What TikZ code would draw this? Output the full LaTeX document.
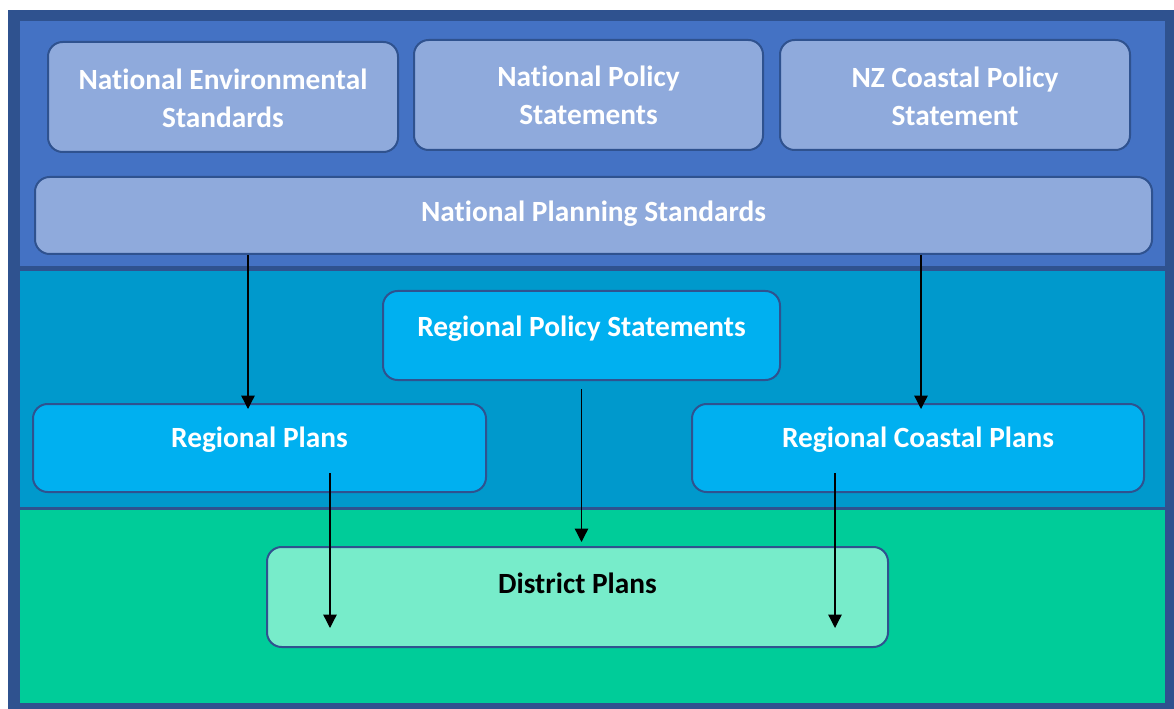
\documentclass[tikz,border=0pt]{standalone}
\usepackage{fontspec}
\setmainfont{Carlito}[Ligatures=NoCommon]
\usepackage{tikz}
\usetikzlibrary{arrows.meta,calc}
\tikzset{every node/.append style={align=center}}
\definecolor{framecolor}{HTML}{2F528F}
\definecolor{nationalband}{HTML}{4472C4}
\definecolor{nationalbox}{HTML}{8FAADC}
\definecolor{regionalband}{HTML}{0099CC}
\definecolor{regionalbox}{HTML}{00B0F0}
\definecolor{districtband}{HTML}{00CC99}
\definecolor{districtbox}{HTML}{77ECCA}
\tikzset{
  planbox/.style={draw=framecolor, line width=1.5pt, rounded corners=11pt, inner sep=0pt},
  plantext/.style={font=\bfseries\fontsize{22}{28.5}\selectfont, text=white},
  flow/.style={line width=1pt, -{Triangle[width=10pt,length=10pt]}}
}

\begin{document}
\begin{tikzpicture}[x=0.75pt, y=-0.75pt]
    \useasboundingbox (0,0) rectangle (1174,709);
    % Bands
    \fill[framecolor] (8,10) rectangle (1174,709);
    \fill[nationalband] (20,21) rectangle (1165,266);
    \fill[regionalband] (20,271) rectangle (1165,507);
    \fill[districtband] (20,510) rectangle (1165,703);

    % National level
    \node[planbox, fill=nationalbox, minimum width=262.5pt, minimum height=82.5pt] (nes) at (223,97) {};
    \node[plantext] (nestext) at ($(nes.center)+(0,1)$) {National Environmental\\Standards};
    \node[planbox, fill=nationalbox, minimum width=261.75pt, minimum height=82.5pt] (nps) at (588.5,95) {};
    \node[plantext] (npstext) at ($(nps.center)+(0,0)$) {National Policy\\Statements};
    \node[planbox, fill=nationalbox, minimum width=262.5pt, minimum height=82.5pt] (nzcps) at (955,95) {};
    \node[plantext] (nzcpstext) at ($(nzcps.center)+(0,1)$) {NZ Coastal Policy\\Statement};
    \node[planbox, fill=nationalbox, minimum width=837.75pt, minimum height=57.75pt] (nplan) at (593.5,215.5) {};
    \node[plantext] (nplantext) at ($(nplan.center)+(0,-2)$) {National Planning Standards};

    % Regional level
    \node[planbox, fill=regionalbox, minimum width=297.75pt, minimum height=66.75pt] (rps) at (581.5,335.5) {};
    \node[plantext] (rpstext) at ($(rps.center)+(0,-7)$) {Regional Policy Statements};
    \node[planbox, fill=regionalbox, minimum width=339.75pt, minimum height=66pt] (rp) at (259.5,448) {};
    \node[plantext] (rptext) at ($(rp.center)+(0,-8)$) {Regional Plans};
    \node[planbox, fill=regionalbox, minimum width=339pt, minimum height=66pt] (rcp) at (918,448) {};
    \node[plantext] (rcptext) at ($(rcp.center)+(0,-8)$) {Regional Coastal Plans};

    % District level
    \node[planbox, fill=districtbox, minimum width=465.75pt, minimum height=75pt] (dp) at (577.5,597) {};
    \node[plantext, text=black] (dptext) at ($(dp.center)+(0,-14)$) {District Plans};

    % Flows
    \draw[flow, shorten >=-4.5pt] (nplan.south -| 248,0) -- (rp.north -| 248,0);
    \draw[flow, shorten >=-4.5pt] (nplan.south -| 921,0) -- (rcp.north -| 921,0);
    \draw[flow, shorten <=6pt, shorten >=3pt] (rps.south) -- (dp.north -| rps.south);
    \draw[flow] ($(rp.south -| 330,0)+(0,-20)$) -- ($(dp.south -| 330,0)+(0,-20)$);
    \draw[flow] ($(rcp.south -| 835,0)+(0,-20)$) -- ($(dp.south -| 835,0)+(0,-20)$);
\end{tikzpicture}
\end{document}
